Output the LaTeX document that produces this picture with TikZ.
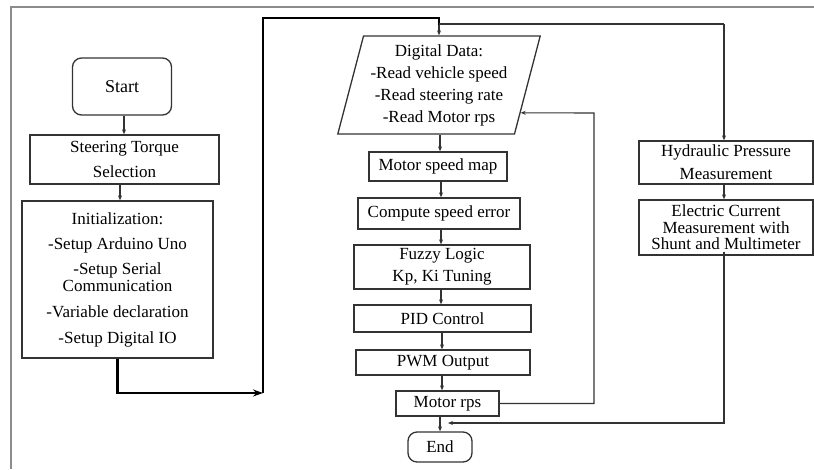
\documentclass[tikz,border=0pt]{standalone}
\usepackage{fontspec}
\setmainfont{Liberation Serif}
\usetikzlibrary{arrows.meta,shapes.geometric,calc}

\begin{document}
\begin{tikzpicture}[x=1pt,y=-1pt,
  box/.style={draw=black!80,line width=1.3pt,inner sep=0pt,align=center,
    font=\fontsize{17}{22}\selectfont},
  term/.style={box,rounded corners=9pt},
  iobox/.style={box,trapezium,trapezium left angle=74,trapezium right angle=106,
    trapezium stretches=true},
  flow/.style={draw=black!80,line width=1.1pt,-{Stealth[length=5pt,width=4pt]}},
  line/.style={draw=black!80,line width=1.1pt},
  main/.style={draw=black,line width=2.6pt,-{Stealth[length=10pt,width=7pt]}}]
 \useasboundingbox (0,0) rectangle (814,469);
 % outer frame
 \draw[black!45,line width=2pt](11,469)--(11,7)--(814,7);
 % left column
 \node[term,minimum width=99,minimum height=57,font=\fontsize{18}{22}\selectfont] (start) at (122,86.5) {Start};
 \node[box,minimum width=189,minimum height=49,font=\fontsize{17}{25}\selectfont] (steer) at (124.5,159.5) {Steering Torque\\Selection};
 \node[box,minimum width=191,minimum height=157,font=\fontsize{17}{17}\selectfont] (init) at (117.5,279.5)
   {Initialization:\\[8pt]-Setup Arduino Uno\\[8pt]-Setup Serial\\Communication\\[9pt]-Variable declaration\\[9pt]-Setup Digital IO};
 % middle column
 \node[iobox,minimum width=203,minimum height=98] (data) at (439,85)
   {Digital Data:\\-Read vehicle speed\\-Read steering rate\\-Read Motor rps};
 \node[box,minimum width=138,minimum height=29] (msm) at (438,166.5) {Motor speed map};
 \node[box,minimum width=162,minimum height=31] (cse) at (439,213.5) {Compute speed error};
 \node[box,minimum width=176,minimum height=44,font=\fontsize{17}{22}\selectfont] (fuzzy) at (442,267) {Fuzzy Logic\\Kp, Ki Tuning};
 \node[box,minimum width=177,minimum height=27] (pid) at (442.5,318.5) {PID Control};
 \node[box,minimum width=174,minimum height=25] (pwm) at (443,362.5) {PWM Output};
 \node[box,minimum width=103,minimum height=25] (mrps) at (447.5,403.5) {Motor rps};
 \node[term,minimum width=64,minimum height=30] (end) at (440,447) {End};
 % right column
 \node[box,minimum width=174,minimum height=43,font=\fontsize{17}{23}\selectfont] (hyd) at (726,162.5) {Hydraulic Pressure\\Measurement};
 \node[box,minimum width=174,minimum height=55,font=\fontsize{17}{16.5}\selectfont] (elec) at (726,227.5)
   {Electric Current\\Measurement with\\Shunt and Multimeter};
 % connectors
 \draw[flow](start.south -| 124,0)--(steer.north -| 124,0);
 \draw[flow](steer.south -| 120,0)--(init.north -| 120,0);
 \coordinate (turn) at (263,393);
 \draw[main](init.south)|-(turn);
 \draw[draw=black,line width=2.6pt](turn)--(263,18)--(439,18)--(439,26);
 \draw[flow](439,25)--(data.north -| 439,0);
 \draw[line](439,24)--(724,24);
 \draw[flow](724,24)--(hyd.north -| 724,0);
 \draw[flow](data.south -| 440,0)--(msm.north -| 440,0);
 \draw[flow](msm.south -| 441,0)--(cse.north -| 441,0);
 \draw[flow](cse.south -| 441,0)--(fuzzy.north -| 441,0);
 \draw[flow](fuzzy.south -| 441,0)--(pid.north -| 441,0);
 \draw[flow](pid.south -| 442,0)--(pwm.north -| 442,0);
 \draw[flow](pwm.south -| 442,0)--(mrps.north -| 442,0);
 \draw[flow](mrps.south -| 440,0)--(end.north -| 440,0);
 \draw[flow](hyd.south -| 724,0)--(elec.north -| 724,0);
 % feedback loops
 \coordinate (fbin) at ($(data.bottom right corner)!0.22!(data.top right corner)$);
 \draw[flow](mrps.east)-|(594,113)--(fbin);
 \coordinate (join) at (448,423);
 \draw[flow]([yshift=4pt]elec.south -| 724,0)|-(join);
\end{tikzpicture}
\end{document}
